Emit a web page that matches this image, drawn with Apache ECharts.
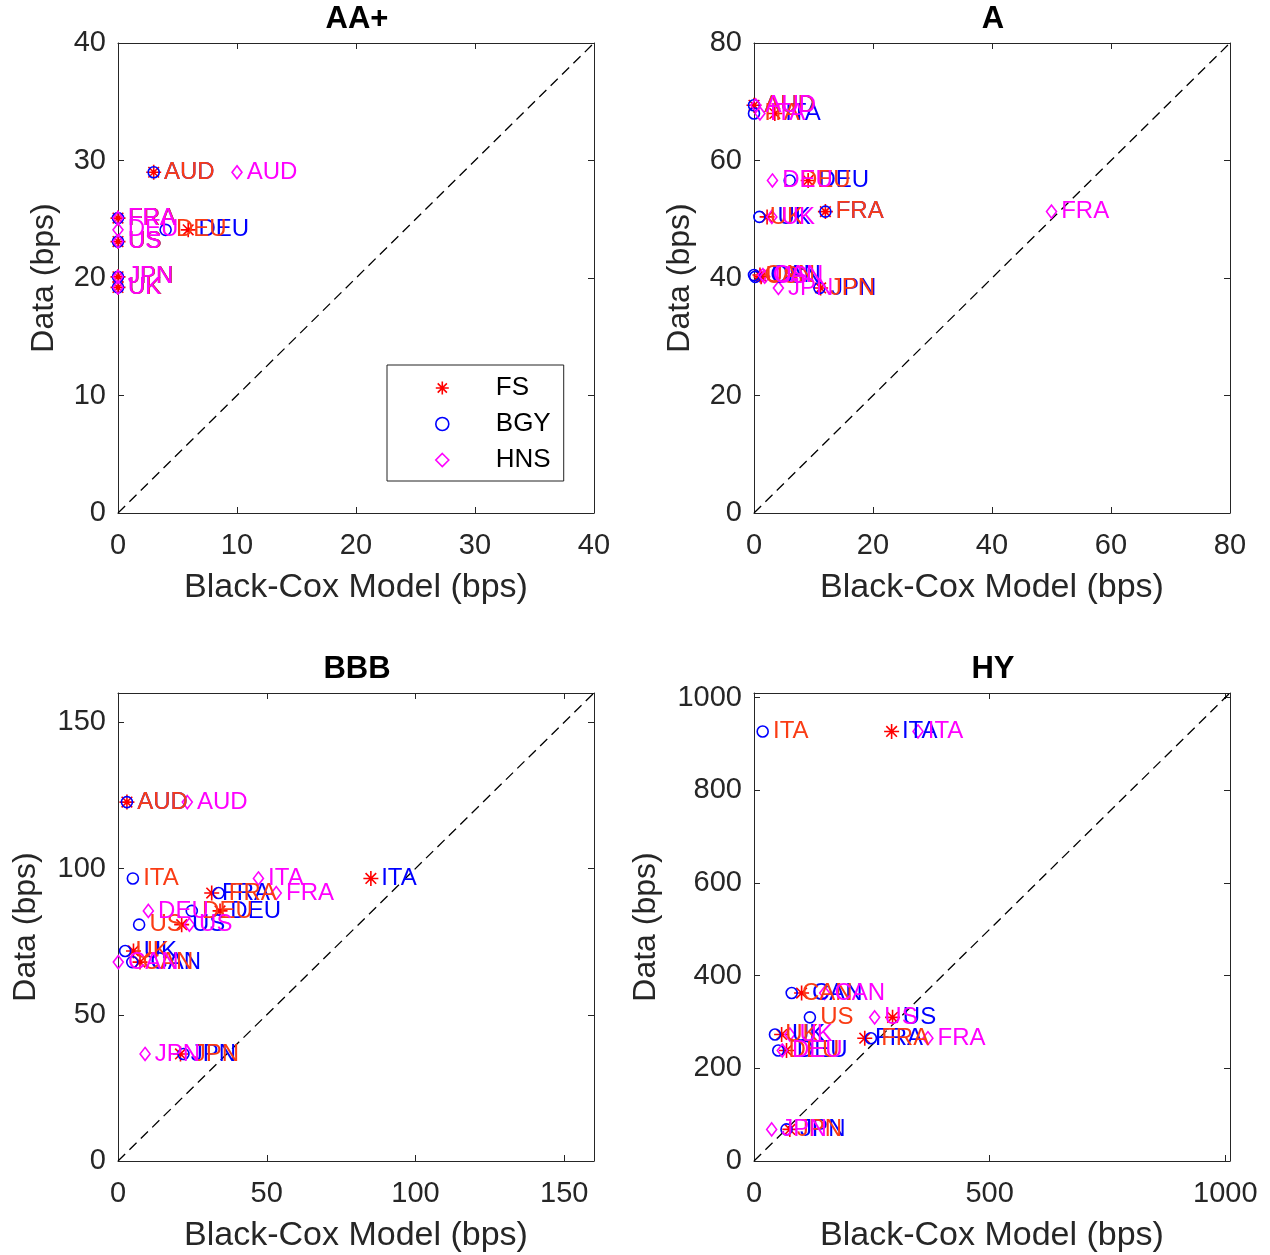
<!DOCTYPE html>
<html>
<head>
<meta charset="utf-8">
<title>Black-Cox model vs data</title>
<script src="https://cdn.jsdelivr.net/npm/echarts@6.0.0/dist/echarts.min.js"></script>
<style>
html, body { margin: 0; padding: 0; background: #fff; }
#main { width: 1270px; height: 1255px; }
</style>
</head>
<body>
<div id="main"></div>
<script>
/*
 * 各评级下 模型利差 vs 实际利差 (bps)
 * FS / BGY / HNS 三个模型，标签按国家
 */
var ratings = ['AA+', 'A', 'BBB', 'HY'];

// AA+
var aaCountries = ['AUD', 'DEU', 'FRA', 'JPN', 'UK', 'US'];
var aaData = [29, 24.1, 25.1, 20.1, 19.2, 23.1];
var aaFS   = [3, 5.9, 0, 0, 0, 0];
var aaBGY  = [3, 4, 0, 0, 0, 0];
var aaHNS  = [10, 0, 0, 0, 0, 0];

// A
var aCountries = ['AUD', 'CAN', 'DEU', 'FRA', 'ITA', 'JPN', 'UK', 'US'];
var aData = [69.4, 40.5, 56.6, 51.3, 68, 38.3, 50.4, 40.2];
var aFS   = [0, 1, 9.1, 12, 3.5, 11.2, 2.2, 1.2];
var aBGY  = [0, 0, 6, 12, 0, 11, 0.9, 0.2];
var aHNS  = [0.3, 1.5, 3.1, 50, 1, 4.1, 3, 1.8];

// BBB
var bCountries = ['AUD', 'CAN', 'DEU', 'FRA', 'ITA', 'JPN', 'UK', 'US'];
var bData = [122.7, 68, 85.5, 91.6, 96.6, 36.6, 71.8, 80.8];
var bFS   = [3, 7.4, 34.3, 31.5, 85, 21, 5.2, 21.4];
var bBGY  = [3, 4.8, 24.8, 33.8, 5, 22, 2.4, 7.1];
var bHNS  = [23.3, 0.1, 10.2, 53.2, 47.2, 9.1, null, 24];

// HY
var hCountries = ['CAN', 'DEU', 'FRA', 'ITA', 'JPN', 'UK', 'US'];
var hData = [362.5, 238.5, 265, 927, 68.2, 273, 310];
var hFS   = [101, 69, 235, 292, 76, 58.6, 294];
var hBGY  = [80, 51.5, 248, 18.4, 69, 44.5, 118.6];
var hHNS  = [150, 60, 369, 348, 37.5, 76, 256];

// 坐标轴范围 / 刻度
var axisMax  = [40, 80, 160, 1010];
var xStep    = [10, 20, 50, 500];
var yStep    = [10, 20, 50, 200];

var FONT = 'Liberation Sans, Arial, Helvetica, sans-serif';
var AXIS_COLOR = '#262626';
var ORANGE = '#fa3c14';
var STAR = 'path://M0,-10L0,10M-10,0L10,0M-7.07,-7.07L7.07,7.07M-7.07,7.07L7.07,-7.07';

// grid 位置 (像素)
var grids = [
    {left: 118, top: 43,  width: 476, height: 470},
    {left: 754, top: 43,  width: 476, height: 470},
    {left: 118, top: 693, width: 476, height: 468},
    {left: 754, top: 693, width: 476, height: 468}
];
var yNameGap = [58, 58, 76, 92];

var panels = [
    {countries: aaCountries, data: aaData, fs: aaFS, bgy: aaBGY, hns: aaHNS},
    {countries: aCountries,  data: aData,  fs: aFS,  bgy: aBGY,  hns: aHNS},
    {countries: bCountries,  data: bData,  fs: bFS,  bgy: bBGY,  hns: bHNS},
    {countries: hCountries,  data: hData,  fs: hFS,  bgy: hBGY,  hns: hHNS}
];

function makeAxis(gi, pos, step, main) {
    var ax = {
        type: 'value',
        gridIndex: gi,
        position: pos,
        min: 0,
        max: axisMax[gi],
        interval: step,
        splitLine: {show: false},
        axisLine: {show: true, onZero: false, lineStyle: {color: AXIS_COLOR, width: 1}},
        axisTick: {show: true, inside: true, length: 6, lineStyle: {color: AXIS_COLOR}},
        axisLabel: {show: false}
    };
    if (main) {
        ax.axisLabel = {
            show: true,
            color: AXIS_COLOR,
            fontSize: 29,
            fontFamily: FONT,
            margin: (pos == 'bottom') ? 18 : 12,
            showMaxLabel: axisMax[gi] % step == 0,
            formatter: function(v) { return String(v); } // 不要千分位
        };
        ax.nameLocation = 'middle';
        if (pos == 'bottom') {
            ax.name = 'Black-Cox Model (bps)';
            ax.nameGap = 58;
            ax.nameTextStyle = {color: AXIS_COLOR, fontSize: 34, fontFamily: FONT};
        } else {
            ax.name = 'Data (bps)';
            ax.nameGap = yNameGap[gi];
            ax.nameTextStyle = {color: AXIS_COLOR, fontSize: 32, fontFamily: FONT};
        }
    }
    return ax;
}

function makeScatter(name, gi, p, xs, symbol, size, markColor, labelColor, dist) {
    var pts = [];
    for (var i = 0; i < p.countries.length; i++) {
        if (xs[i] == null) continue; // 缺失
        pts.push({name: p.countries[i], value: [xs[i], p.data[i]]});
    }
    return {
        type: 'scatter',
        name: name,
        xAxisIndex: gi * 2,
        yAxisIndex: gi * 2,
        symbol: symbol,
        symbolSize: size,
        itemStyle: {color: 'rgba(0,0,0,0)', borderColor: markColor, borderWidth: 1.6, opacity: 1},
        label: {
            show: true,
            position: 'right',
            distance: dist,
            formatter: '{b}',
            color: labelColor,
            fontSize: 24,
            fontFamily: FONT
        },
        emphasis: {disabled: true},
        silent: true,
        data: pts
    };
}

var xAxes = [], yAxes = [], series = [], titles = [];

for (var gi = 0; gi < 4; gi++) {
    xAxes.push(makeAxis(gi, 'bottom', xStep[gi], true));
    xAxes.push(makeAxis(gi, 'top', xStep[gi], false));
    yAxes.push(makeAxis(gi, 'left', yStep[gi], true));
    yAxes.push(makeAxis(gi, 'right', yStep[gi], false));

    // 45度参考线
    series.push({
        type: 'line',
        xAxisIndex: gi * 2,
        yAxisIndex: gi * 2,
        data: [[0, 0], [axisMax[gi], axisMax[gi]]],
        symbol: 'none',
        silent: true,
        lineStyle: {color: '#000', width: 1.3, type: [10, 6], opacity: 1},
        z: 1
    });

    var p = panels[gi];
    // 注意：FS 的标签是蓝色，BGY 的标签是橙红色（与原图一致）
    series.push(makeScatter('FS',  gi, p, p.fs,  STAR, 15, '#ff0000', '#0000ff', 2));
    series.push(makeScatter('BGY', gi, p, p.bgy, 'circle', 11, '#0000ff', ORANGE, 4));
    series.push(makeScatter('HNS', gi, p, p.hns, 'diamond', [10, 13], '#ff00ff', '#ff00ff', 4));

    titles.push({
        text: ratings[gi],
        left: grids[gi].left + grids[gi].width / 2 - 4,
        top: grids[gi].top - 44,
        textAlign: 'center',
        textStyle: {fontSize: 31, fontWeight: 'bold', fontFamily: FONT, color: '#000'}
    });
}

var chart = echarts.init(document.getElementById('main'), null, {renderer: 'canvas'});
chart.setOption({
    animation: false,
    backgroundColor: '#fff',
    title: titles,
    grid: grids,
    xAxis: xAxes,
    yAxis: yAxes,
    legend: {
        data: ['FS', 'BGY', 'HNS'],
        orient: 'vertical',
        left: 387,
        top: 365,
        padding: [10, 13, 8, 48],
        itemWidth: 13,
        itemHeight: 13,
        itemGap: 10,
        borderColor: '#222',
        borderWidth: 1,
        itemStyle: {borderWidth: 1.6, opacity: 1},
        selectedMode: false,
        textStyle: {fontSize: 26, fontFamily: FONT, color: '#000', lineHeight: 26, padding: [0, 0, 0, 42]}
    },
    series: series
});
</script>
</body>
</html>
